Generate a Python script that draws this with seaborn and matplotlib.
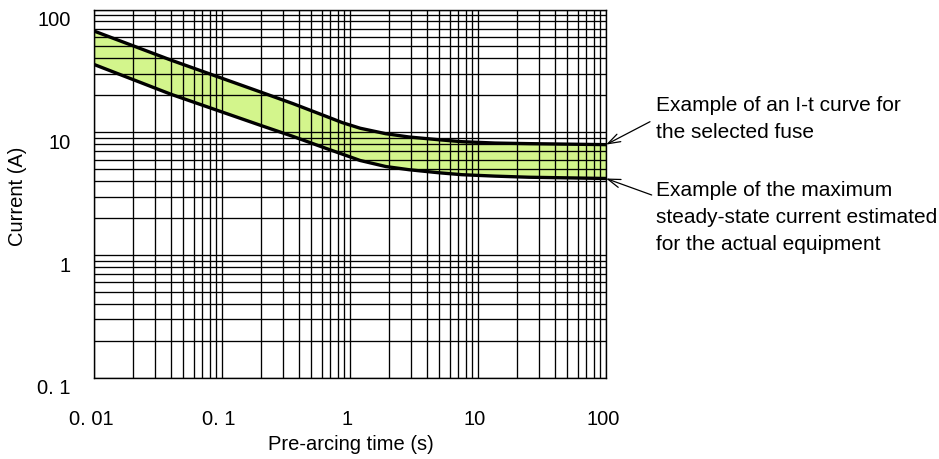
import numpy as np
import pandas as pd
import matplotlib
matplotlib.use("Agg")
import matplotlib.pyplot as plt
import matplotlib.transforms as mtransforms
from matplotlib.ticker import FixedLocator, LogLocator, NullFormatter
import seaborn as sns

# ---- data ----
time_s = [0.01, 0.04, 0.2, 0.36, 0.65, 0.87, 1.2, 1.9, 2.9, 4.9, 7.5, 13.6, 25, 100]
fuse_curve = [66.8, 38.7, 21.3, 17.1, 13.5, 12.0, 10.8, 9.75, 9.16, 8.71, 8.39, 8.18, 8.09, 7.94]
steady_current = [35.7, 20.4, 11.4, 9.25, 7.4, 6.65, 5.90, 5.27, 4.96, 4.69, 4.52, 4.40, 4.31, 4.21]
x_ticks = [0.01, 0.1, 1, 10, 100]
x_tick_labels = ["0. 01", "0. 1", "1", "10", "100"]
y_ticks = [0.1, 1, 10, 100]
y_tick_labels = ["0. 1", "1", "10", "100"]
note_fuse = "Example of an I-t curve for\nthe selected fuse"
note_steady = "Example of the maximum\nsteady-state current estimated\nfor the actual equipment"

df = pd.DataFrame({"t": time_s, "upper": fuse_curve, "lower": steady_current})

sns.set_style("white")
plt.rcParams["font.family"] = ["Liberation Sans", "DejaVu Sans"]
plt.rcParams["text.color"] = "black"
plt.rcParams["axes.labelcolor"] = "black"
plt.rcParams["xtick.color"] = "black"
plt.rcParams["ytick.color"] = "black"

W, H = 939, 459
fig = plt.figure(figsize=(W / 100, H / 100), dpi=100)
ax = fig.add_axes([94 / W, 1 - 378 / H, 512 / W, 368.5 / H])

ax.set_xscale("log")
ax.set_yscale("log")
ax.set_xlim(0.01, 100)
ax.set_ylim(0.1, 100)

ax.fill_between(df["t"], df["lower"], df["upper"], color="#d3f58c", zorder=1, lw=0)

# grid
ax.xaxis.set_major_locator(FixedLocator(x_ticks))
ax.yaxis.set_major_locator(FixedLocator(y_ticks))
ax.xaxis.set_minor_locator(LogLocator(base=10, subs=np.arange(2, 10)))
ax.yaxis.set_minor_locator(LogLocator(base=10, subs=np.arange(2, 10)))
ax.xaxis.set_minor_formatter(NullFormatter())
ax.yaxis.set_minor_formatter(NullFormatter())
ax.grid(True, which="both", color="black", lw=0.95, zorder=2)
ax.set_axisbelow(False)

sns.lineplot(data=df, x="t", y="upper", ax=ax, color="black", lw=2.4, zorder=3)
sns.lineplot(data=df, x="t", y="lower", ax=ax, color="black", lw=2.4, zorder=3)

ax.set_xticklabels(x_tick_labels)
ax.set_yticklabels(y_tick_labels)
for lab in ax.get_xticklabels() + ax.get_yticklabels():
    lab.set_fontsize(14.5)
    lab.set_color("black")
ax.tick_params(axis="both", which="both", length=0, colors="black")
ax.tick_params(axis="x", pad=23)
ax.tick_params(axis="y", pad=17)
off_y = mtransforms.ScaledTranslation(0, -9 / 100, fig.dpi_scale_trans)
for lab in ax.get_yticklabels():
    lab.set_transform(lab.get_transform() + off_y)
off_x = mtransforms.ScaledTranslation(-3 / 100, 0, fig.dpi_scale_trans)
for lab in ax.get_xticklabels():
    lab.set_transform(lab.get_transform() + off_x)

for sp in ax.spines.values():
    sp.set_color("black")
    sp.set_linewidth(1.0)

ax.set_xlabel("Pre-arcing time (s)", fontsize=14.5, color="black")
ax.set_ylabel("Current (A)", fontsize=14.5, color="black")
ax.xaxis.set_label_coords(351 / W, 1 - 445 / H, transform=fig.transFigure)
ax.xaxis.label.set_va("center")
ax.yaxis.set_label_coords(18 / W, 1 - 196 / H, transform=fig.transFigure)
ax.yaxis.label.set_va("center")

fig.text(656 / W, 1 - 119 / H, note_fuse, fontsize=15, va="center", ha="left",
         linespacing=1.5, color="black")
fig.text(656 / W, 1 - 217.5 / H, note_steady, fontsize=15, va="center", ha="left",
         linespacing=1.5, color="black")

arrow_kw = dict(arrowstyle="->,head_length=0.9,head_width=0.3", color="black",
                lw=0.9, shrinkA=0, shrinkB=0)
ax.annotate("", xy=(100, fuse_curve[-1]), xycoords="data",
            xytext=(650, H - 121.7), textcoords="figure pixels",
            arrowprops=arrow_kw, annotation_clip=False)
ax.annotate("", xy=(100, steady_current[-1]), xycoords="data",
            xytext=(651.7, H - 195), textcoords="figure pixels",
            arrowprops=arrow_kw, annotation_clip=False)

fig.savefig("out.png", dpi=100)
